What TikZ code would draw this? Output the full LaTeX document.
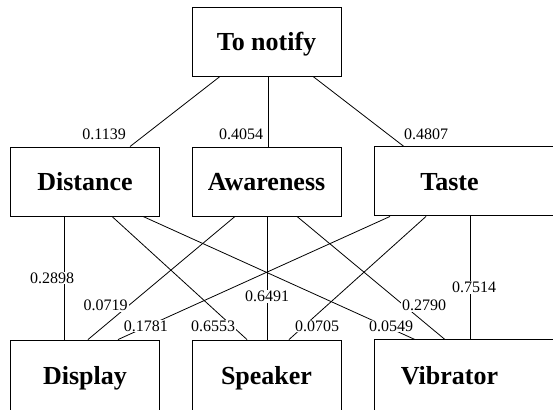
\documentclass[tikz,border=0pt]{standalone}
\usepackage{fontspec}
\setmainfont{Liberation Serif}

\begin{document}
\begin{tikzpicture}[x=1pt,y=-1pt]
		\tikzset{box/.style={shape = rectangle, draw, line width = 0.9pt, minimum width = 149pt, minimum height = 69pt, inner sep = 0pt, text height = 18pt, text depth = 0pt, font = \bfseries\fontsize{26}{30}\selectfont}}
		\tikzset{edge/.style={line width = 0.8pt}}
		\tikzset{weight/.style={fill = white, inner sep = 1pt, font = \fontsize{16}{18}\selectfont}}
		\useasboundingbox (0,0) rectangle (553,409);
		\clip (0,0) rectangle (553,409);
					%vertices
					\node[box] (notify) at (266.5, 41.5) {To notify};
					\node[box] (dist) at (85, 181.5) {Distance};
					\node[box] (aware) at (266.5, 181.5) {Awareness};
					\node[box, draw = none] (taste) at (449.5, 181.5) {Taste};
					\node[box, minimum height = 70pt] (disp) at (85, 375) {Display};
					\node[box, minimum height = 70pt] (spk) at (266.5, 375) {Speaker};
					\node[box, draw = none, minimum height = 70pt] (vib) at (449.5, 375) {Vibrator};
					\draw[line width = 0.9pt] (taste.north west) rectangle ++(220, 69);
					\draw[line width = 0.9pt] (vib.north west) rectangle ++(220, 75);
					%edges
					\draw[edge] ([xshift=-46.5]notify.south) -- node[weight, pos=.82, xshift=-42] {0.1139} ([xshift=45]dist.north);
					\draw[edge] ([xshift=1.5]notify.south) -- node[weight, pos=.82, xshift=-27] {0.4054} ([xshift=1.5]aware.north);
					\draw[edge] ([xshift=46.5]notify.south) -- node[weight, pos=.82, xshift=38.5] {0.4807} ([xshift=-45.5]taste.north);
					
					\draw[edge] ([xshift=-21]dist.south) -- node[weight, pos=.5, xshift=-12] {0.2898} ([xshift=-21]disp.north);
					\draw[edge] ([xshift=27]dist.south) -- node[weight, pos=.89, xshift=-19] {0.6553} ([xshift=-19.5]spk.north);
					\draw[edge] ([xshift=58]dist.south) -- node[weight, pos=.89, xshift=6] {0.0549} ([xshift=-34.5]vib.north);
					\draw[edge] ([xshift=-31.5]aware.south) -- node[weight, pos=.72, xshift=-23.5] {0.0719} ([xshift=3]disp.north);
					\draw[edge] ([xshift=0.5]aware.south) -- node[weight, pos=.65] {0.6491} ([xshift=0.5]spk.north);
					\draw[edge] ([xshift=30.5]aware.south) -- node[weight, pos=.72, xshift=20.5] {0.2790} ([xshift=-4.5]vib.north);
					\draw[edge] ([xshift=-59.5]taste.south) -- node[weight, pos=.89, xshift=-2] {0.1781} ([xshift=33]disp.north);
					\draw[edge] ([xshift=-23.5]taste.south) -- node[weight, pos=.89, xshift=13] {0.0705} ([xshift=22.5]spk.north);
					\draw[edge] ([xshift=20.5]taste.south) -- node[weight, pos=.575, xshift=4] {0.7514} ([xshift=20.5]vib.north);
					
\end{tikzpicture}
\end{document}
